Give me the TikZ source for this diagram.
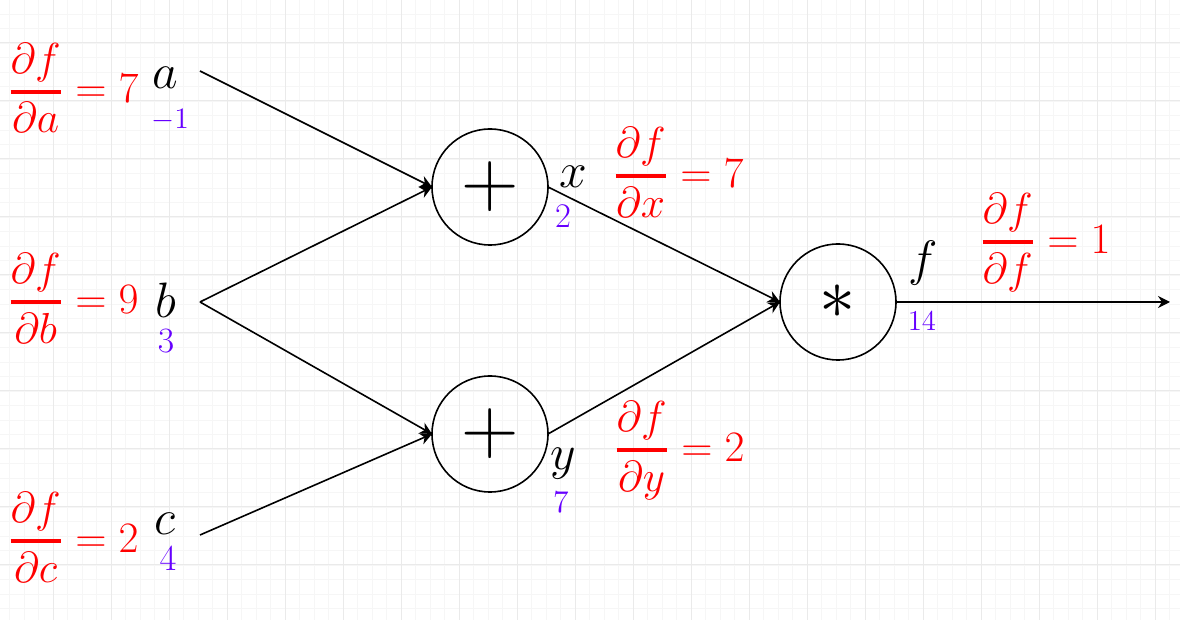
\documentclass[tikz,border=0pt]{standalone}
\usepackage{graphicx}
\usetikzlibrary{arrows.meta}
\definecolor{gradred}{RGB}{255,0,0}
\definecolor{valpurple}{RGB}{102,0,255}
\definecolor{gridmajor}{RGB}{234,234,234}
\definecolor{gridminor}{RGB}{246,246,246}
\newcommand{\gfrac}[2]{{\displaystyle{\smash{#1}\vphantom{\partial}\above 1.9pt \smash{#2}\vphantom{a}}}}
\begin{document}
\begin{tikzpicture}[x=0.5pt,y=-0.5pt,
  opnode/.style={circle,draw,line width=0.8pt,minimum size=58pt,inner sep=0pt,outer sep=0pt,font=\fontsize{24.88}{28}\selectfont},
  conn/.style={line width=0.8pt,-{Stealth[length=6pt,width=6pt]}},
  varlabel/.style={inner sep=0pt,font=\fontsize{24.5}{28}\selectfont},
  vallabel/.style={inner sep=0pt,text=valpurple},
  gradlabel/.style={inner sep=0pt,anchor=base west,text=gradred,font=\fontsize{20.74}{26}\selectfont},
  minorline/.style={draw=gridminor,line width=0.45pt},
  majorline/.style={draw=gridmajor,line width=0.5pt}]
\useasboundingbox (0,0) rectangle (1180,620);
\fill[white] (0,0) rectangle (1180,620);
% grid
\foreach \k in {0,...,81} {
  \pgfmathsetmacro{\gx}{9.5+14.5*\k}
  \draw[minorline] (\gx,0) -- (\gx,620);
}
\foreach \k in {0,...,42} {
  \pgfmathsetmacro{\gy}{14+14.5*\k}
  \draw[minorline] (0,\gy) -- (1180,\gy);
}
\foreach \k in {0,...,19} {
  \pgfmathsetmacro{\gx}{53+58*\k}
  \draw[majorline] (\gx,0) -- (\gx,620);
}
\foreach \k in {0,...,10} {
  \pgfmathsetmacro{\gy}{43+58*\k}
  \draw[majorline] (0,\gy) -- (1180,\gy);
}
% operation nodes
\node[opnode] (p1) at (490,187) {\scalebox{1.6}{$+$}};
\node[opnode] (p2) at (490,434) {\scalebox{1.6}{$+$}};
\node[opnode] (tm) at (838,302) {\scalebox{1.45}{$\ast$}};
% input points
\coordinate (ain) at (200,71);
\coordinate (bin) at (200,302);
\coordinate (cin) at (200,535);
\coordinate (fout) at (1170,302);
% connectors
\draw[conn] (ain) -- (p1.west);
\draw[conn] (bin) -- (p1.west);
\draw[conn] (bin) -- (p2.west);
\draw[conn] (cin) -- (p2.west);
\draw[conn] (p1.east) -- (tm.west);
\draw[conn] (p2.east) -- (tm.west);
\draw[conn] (tm.east) -- (fout);
% variable labels
\node[varlabel] (la) at (165,78) {$a$};
\node[varlabel] (lb) at (166,300) {$b$};
\node[varlabel] (lc) at (165,524) {$c$};
\node[varlabel] (lx) at (573,177) {$x$};
\node[varlabel] (ly) at (563,464) {$y$};
\node[varlabel] (lf) at (923,263) {$f$};
% value labels
\node[vallabel,font=\fontsize{14.4}{18}\selectfont] (va) at (170,120) {\scalebox{1.03}{$-1$}};
\node[vallabel,font=\fontsize{17.28}{21}\selectfont] (vb) at (166,341) {\scalebox{1.03}{$3$}};
\node[vallabel,font=\fontsize{17.28}{22}\selectfont] (vc) at (168,559) {\scalebox{1.06}{$4$}};
\node[vallabel,font=\fontsize{17.28}{21}\selectfont] (vx) at (563,216) {$2$};
\node[vallabel,font=\fontsize{14.4}{19}\selectfont] (vy) at (561,502) {\scalebox{1.1}{$7$}};
\node[vallabel,font=\fontsize{14.4}{17}\selectfont] (vf) at (922,321) {$14$};
% gradient labels
\node[gradlabel] (ga) at (7.6,102.8) {\scalebox{1.046}{$\gfrac{\partial f}{\partial a}=7$}};
\node[gradlabel] (gb) at (7.6,313.3) {\scalebox{1.046}{$\gfrac{\partial f}{\partial b}=9$}};
\node[gradlabel] (gc) at (7.6,552.3) {\scalebox{1.046}{$\gfrac{\partial f}{\partial c}=2$}};
\node[gradlabel] (gx) at (612.6,187.3) {\scalebox{1.046}{$\gfrac{\partial f}{\partial x}=7$}};
\node[gradlabel] (gy) at (613.6,461.3) {\scalebox{1.046}{$\gfrac{\partial f}{\partial y}=2$}};
\node[gradlabel] (gf) at (979.6,253.3) {\scalebox{1.046}{$\gfrac{\partial f}{\partial f}=1$}};
\end{tikzpicture}
\end{document}
